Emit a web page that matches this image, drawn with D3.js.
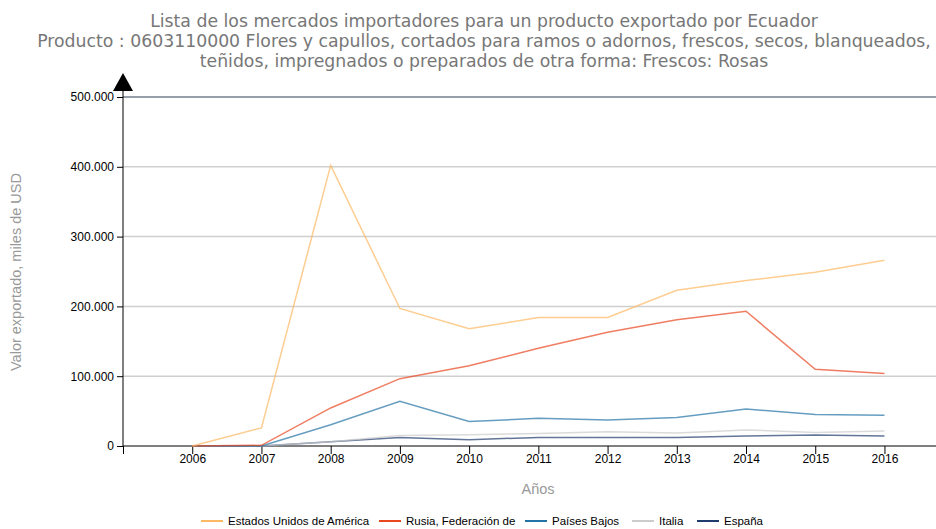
<!DOCTYPE html>
<meta charset="utf-8">
<style>
    body { margin: 0; background: #fff; }
    .title { font-family: "DejaVu Sans", Verdana, sans-serif; font-size: 17.3px; fill: #777; }
    .axis text { font-family: "Liberation Sans", Arial, sans-serif; font-size: 12px; fill: #000; }
    .axis path, .axis line { stroke: #000; }
    .lbl { font-family: "Liberation Sans", Arial, sans-serif; font-size: 14.5px; fill: #999; }
    .legend text { font-family: "Liberation Sans Narrow", "Liberation Sans", Arial, sans-serif; font-size: 11.5px; fill: #000; }
</style>
<body>
<svg id="chart" width="936" height="529"></svg>
</body>
<script src="https://d3js.org/d3.v7.min.js"></script>
<script>
    // datos, miles de USD
    var years = [2006, 2007, 2008, 2009, 2010, 2011, 2012, 2013, 2014, 2015, 2016];
    var usa    = [0, 26000, 402000, 197000, 168000, 184000, 184000, 223000, 237000, 249000, 266000];
    var rusia  = [0, 1000, 54500, 96500, 115000, 140000, 163000, 181000, 193000, 110000, 104000];
    var paises = [0, 0, 30500, 64000, 35000, 39600, 37300, 41000, 53000, 45000, 44000];
    var italia = [0, 0, 6000, 15000, 16000, 18000, 20500, 18600, 23000, 19500, 21500];
    var espana = [0, 0, 6000, 12000, 9000, 12300, 12000, 12000, 14300, 15800, 14300];

    var names = ["Estados Unidos de América", "Rusia, Federación de", "Países Bajos", "Italia", "España"];
    var colors = ["#fdb863", "#e8461f", "#2373a6", "#cccccc", "#1f3c6e"];
    var yTicks = [0, 100000, 200000, 300000, 400000, 500000];
    var titleLines = [
        "Lista de los mercados importadores para un producto exportado por Ecuador",
        "Producto : 0603110000 Flores y capullos, cortados para ramos o adornos, frescos, secos, blanqueados,",
        "teñidos, impregnados o preparados de otra forma: Frescos: Rosas"
    ];

    var series = [usa, rusia, paises, italia, espana].map(function(v, i) {
        return { name: names[i], color: colors[i], values: v };
    });

    var svg = d3.select("#chart");
    var margin = { left: 123, top: 97, right: 1, bottom: 83 };
    var W = 936, H = 529;

    var x = d3.scaleLinear().domain([2005, 2016.73]).range([margin.left, W - margin.right]);
    var y = d3.scaleLinear().domain([0, 500000]).range([446, 97]);

    var fmt = function(d) { return d === 0 ? "0" : d3.format(",")(d).replace(/,/g, "."); };

    // titulo
    svg.selectAll(".title").data(titleLines).enter().append("text")
        .attr("class", "title")
        .attr("x", 484)
        .attr("y", function(d, i) { return 27 + i * 20; })
        .attr("text-anchor", "middle")
        .text(function(d) { return d; });

    // grid
    svg.append("g").selectAll("line").data(yTicks.slice(1)).enter().append("line")
        .attr("x1", x(2005)).attr("x2", W)
        .attr("y1", function(d) { return y(d); }).attr("y2", function(d) { return y(d); })
        .attr("stroke", function(d) { return d === 500000 ? "#2c3e55" : "#cfcfcf"; })
        .attr("stroke-width", function(d) { return d === 500000 ? 1 : 1.5; });

    // ejes
    var xAxis = svg.append("g").attr("class", "axis")
        .attr("transform", "translate(0," + y(0) + ")")
        .call(d3.axisBottom(x).tickValues([2005].concat(years)).tickSize(8)
            .tickFormat(function(d) { return d === 2005 ? "" : d; }));
    xAxis.select(".domain").attr("d", "M" + x(2005) + ",0H" + W);
    xAxis.selectAll("text").attr("dy", "0.95em").attr("y", 6);

    var yAxis = svg.append("g").attr("class", "axis")
        .attr("transform", "translate(" + x(2005) + ",0)")
        .call(d3.axisLeft(y).tickValues(yTicks).tickSize(6).tickFormat(fmt));
    yAxis.select(".domain").attr("d", "M0," + y(0) + "V88");
    yAxis.selectAll("text").attr("x", -9);

    // flecha
    svg.append("path")
        .attr("d", "M" + (x(2005) - 10) + ",91L" + x(2005) + ",73L" + (x(2005) + 10) + ",91Z")
        .attr("fill", "#000");

    // lineas
    var line = d3.line()
        .x(function(d, i) { return x(years[i]); })
        .y(function(d) { return y(d); });

    svg.append("g").selectAll("path").data(series.slice().reverse()).enter().append("path")
        .attr("d", function(s) { return line(s.values); })
        .attr("fill", "none")
        .attr("stroke", function(s) { return s.color; })
        .attr("stroke-opacity", 0.7)
        .attr("stroke-width", 1.5);

    // etiquetas
    svg.append("text").attr("class", "lbl")
        .attr("transform", "translate(21,272) rotate(-90)")
        .attr("text-anchor", "middle")
        .text("Valor exportado, miles de USD");
    svg.append("text").attr("class", "lbl")
        .attr("x", 538).attr("y", 494)
        .attr("text-anchor", "middle")
        .text("Años");

    // leyenda
    var legX = [201, 379, 525, 632, 697];
    var leg = svg.append("g").attr("class", "legend").selectAll("g").data(series).enter().append("g")
        .attr("transform", function(d, i) { return "translate(" + legX[i] + ",521)"; });
    leg.append("line").attr("x1", 0).attr("x2", 22)
        .attr("stroke", function(d) { return d.color; }).attr("stroke-width", 2);
    leg.append("text").attr("x", 27).attr("dy", "0.35em")
        .text(function(d) { return d.name; });
</script>
